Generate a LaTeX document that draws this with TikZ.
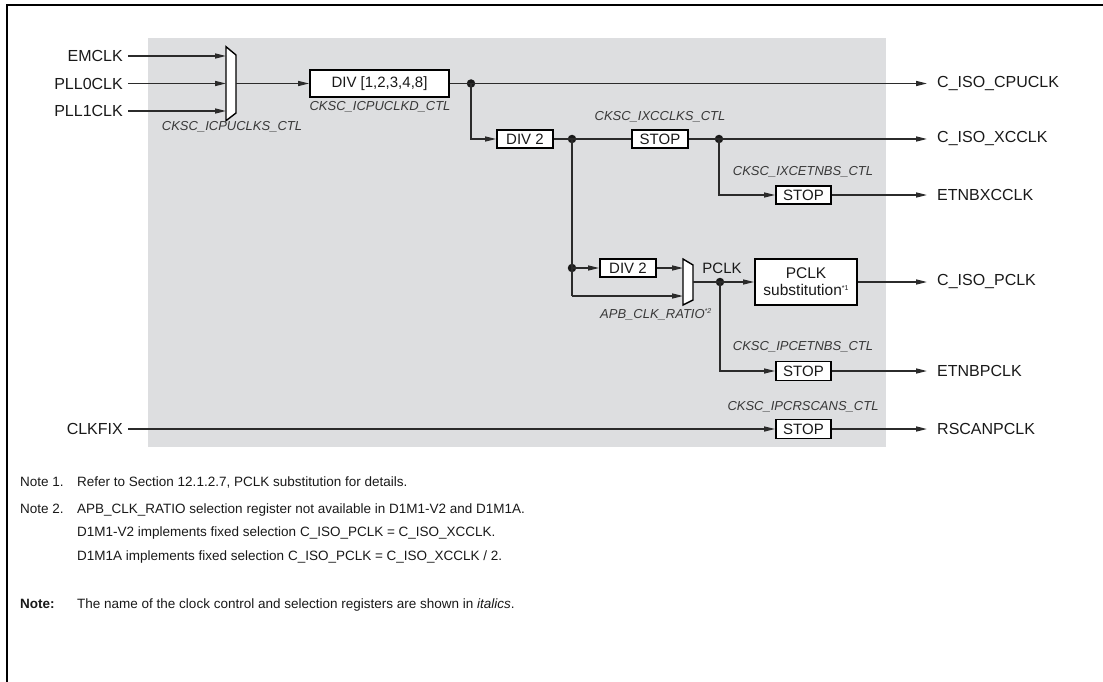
\documentclass[tikz,border=0pt]{standalone}
\usepackage{fontspec}
\setmainfont{Liberation Sans}
\usetikzlibrary{arrows.meta}
\definecolor{bgray}{HTML}{DDDEE0}
\definecolor{lnc}{HTML}{2B2B2B}
\definecolor{itc}{HTML}{383838}
\tikzset{
  wire/.style={draw=lnc, line width=1.3pt},
  arr/.style={wire, -{Triangle[length=11pt,width=5pt]}},
  blk/.style={draw=black, line width=1.6pt, fill=white, inner sep=0pt,
    font=\fontsize{15}{16}\selectfont, text=black!90},
  lbl/.style={inner sep=0pt, font=\fontsize{16}{18}\selectfont, text=black!90},
  reg/.style={inner sep=0pt, font=\fontsize{13}{15}\selectfont\itshape, text=itc},
  notetxt/.style={inner sep=0pt, anchor=base west, font=\fontsize{13.5}{15}\selectfont, text=black!90},
  muxs/.style={draw=black, line width=1.4pt, fill=white},
  dotc/.style={circle, fill=black!90, inner sep=0pt, minimum size=8.5pt},
}
\newcommand{\sups}[1]{\raisebox{5pt}{\fontsize{7}{7}\selectfont #1}}
\begin{document}
\begin{tikzpicture}[x=1pt,y=-1pt]
\useasboundingbox (0,0) rectangle (1103,682);
% frame
\draw[line width=2.4pt, black] (7,682) -- (7,5) -- (1103,5);
% gray area
\fill[bgray] (148,38) rectangle (886,447);

% inputs
\node[lbl, anchor=east] (em) at (123,56) {EMCLK};
\node[lbl, anchor=east] (p0) at (123,83.5) {PLL0CLK};
\node[lbl, anchor=east] (p1) at (123,111) {PLL1CLK};
\node[lbl, anchor=east] (fix) at (123,429) {CLKFIX};

% mux 1
\draw[muxs] (226,46.7) -- (236,55) -- (236,113) -- (226,120.7) -- cycle;
\coordinate (m1a) at (226,56);
\coordinate (m1b) at (226,83.5);
\coordinate (m1c) at (226,111);
\coordinate (m1o) at (236,83.5);
\node[reg] (r1) at (232,127) {CKSC\_ICPUCLKS\_CTL};

\draw[arr] ([xshift=5pt]em.east) -- (m1a);
\draw[arr] ([xshift=5pt]p0.east) -- (m1b);
\draw[arr] ([xshift=5pt]p1.east) -- (m1c);

% div
\node[blk, minimum width=139pt, minimum height=27.5pt] (div) at (379.5,83.5) {DIV [1,2,3,4,8]};
\node[reg] (r2) at (380,107) {CKSC\_ICPUCLKD\_CTL};
\draw[arr] (m1o) -- (div.west);

\node[dotc] (d1) at (471,83.5) {};
\node[lbl, anchor=west] (cpu) at (937,83.5) {C\_ISO\_CPUCLK};
\draw[wire] (div.east) -- (d1.center);
\draw[arr] (d1.center) -- ([xshift=-10pt]cpu.west);

% div2 a
\node[blk, minimum width=56pt, minimum height=18pt] (dv2) at (525,139) {DIV 2};
\draw[arr] (d1.center) |- (dv2.west);
\node[dotc] (d2) at (572,139) {};
\draw[wire] (dv2.east) -- (d2.center);
\node[blk, minimum width=56pt, minimum height=18pt] (st1) at (660,139) {STOP};
\node[reg] (r3) at (660,117) {CKSC\_IXCCLKS\_CTL};
\draw[wire] (d2.center) -- (st1.west);
\node[dotc] (d3) at (719,139) {};
\draw[wire] (st1.east) -- (d3.center);
\node[lbl, anchor=west] (xc) at (937,139) {C\_ISO\_XCCLK};
\draw[arr] (d3.center) -- ([xshift=-10pt]xc.west);

% etnbxcclk
\node[blk, minimum width=55pt, minimum height=18pt] (st2) at (803.5,195) {STOP};
\node[reg] (r4) at (803,172) {CKSC\_IXCETNBS\_CTL};
\draw[arr] (d3.center) |- (st2.west);
\node[lbl, anchor=west] (ex) at (937,195) {ETNBXCCLK};
\draw[arr] (st2.east) -- ([xshift=-10pt]ex.west);

% pclk path
\node[dotc] (d4) at (572,268) {};
\coordinate (c4) at (572,296);
\draw[wire] (d2.center) -- (d4.center) -- (c4);
\node[blk, minimum width=56pt, minimum height=18pt] (dv2b) at (628,268) {DIV 2};
\draw[arr] (d4.center) -- (dv2b.west);
\draw[muxs] (683,259) -- (693,265) -- (693,300) -- (683,305) -- cycle;
\coordinate (m2a) at (683,268);
\coordinate (m2b) at (683,296);
\coordinate (m2o) at (693,282);
\draw[arr] (dv2b.east) -- (m2a);
\draw[arr] (c4) -- (m2b);
\node[reg, anchor=west] (r5) at (600,314) {APB\_CLK\_RATIO\sups{*2}};
\node[dotc] (d5) at (720,282) {};
\node[lbl, font=\fontsize{15}{16}\selectfont] (pl) at (722,268) {PCLK};
\draw[wire] (m2o) -- (d5.center);
\node[blk, minimum width=102pt, minimum height=46pt, align=center,
  font=\fontsize{15.5}{17}\selectfont] (ps) at (806,282) {PCLK\\substitution\sups{*1}};
\draw[arr] (d5.center) -- (ps.west);
\node[lbl, anchor=west] (pc) at (937,282) {C\_ISO\_PCLK};
\draw[arr] (ps.east) -- ([xshift=-10pt]pc.west);

% etnbpclk
\node[blk, minimum width=55pt, minimum height=19pt] (st3) at (803.5,371) {STOP};
\node[reg] (r6) at (803,347) {CKSC\_IPCETNBS\_CTL};
\draw[arr] (d5.center) |- (st3.west);
\node[lbl, anchor=west] (ep) at (937,371) {ETNBPCLK};
\draw[arr] (st3.east) -- ([xshift=-10pt]ep.west);

% rscan
\node[blk, minimum width=55pt, minimum height=19pt] (st4) at (803.5,429) {STOP};
\node[reg] (r7) at (803,407) {CKSC\_IPCRSCANS\_CTL};
\draw[arr] ([xshift=5pt]fix.east) -- (st4.west);
\node[lbl, anchor=west] (rs) at (937,429) {RSCANPCLK};
\draw[arr] (st4.east) -- ([xshift=-10pt]rs.west);

% notes
\node[notetxt] (n1) at (20,486) {Note 1.};
\node[notetxt] (n1t) at (77,486) {Refer to Section 12.1.2.7, PCLK substitution for details.};
\node[notetxt] (n2) at (20,513) {Note 2.};
\node[notetxt] (n2t) at (77,513) {APB\_CLK\_RATIO selection register not available in D1M1-V2 and D1M1A.};
\node[notetxt] (n2u) at (77,536) {D1M1-V2 implements fixed selection C\_ISO\_PCLK = C\_ISO\_XCCLK.};
\node[notetxt] (n2v) at (77,560) {D1M1A implements fixed selection C\_ISO\_PCLK = C\_ISO\_XCCLK / 2.};
\node[notetxt, font=\fontsize{13.5}{15}\selectfont\bfseries] (n3) at (20,608) {Note:};
\node[notetxt] (n3t) at (77,608) {The name of the clock control and selection registers are shown in \textit{italics}.};
\end{tikzpicture}
\end{document}
